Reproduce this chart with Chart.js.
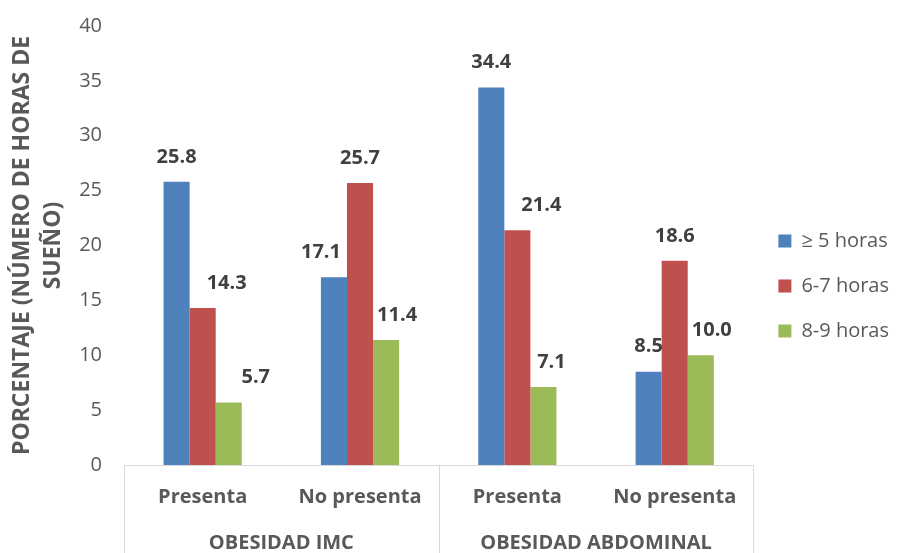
<!DOCTYPE html>
<html><head><meta charset="utf-8">
<script src="https://cdn.jsdelivr.net/npm/chart.js@4/dist/chart.umd.min.js"></script>
<style>html,body{margin:0;padding:0;background:#fff}#wrap{width:907px;height:553px}</style>
</head><body><div id="wrap"><canvas id="c" width="907" height="553"></canvas></div>
<script>
const categories = ['Presenta','No presenta','Presenta','No presenta'];
const groups = ['OBESIDAD IMC','OBESIDAD ABDOMINAL'];
const seriesNames = ['\u2265 5 horas','6-7 horas','8-9 horas'];
const s5 = [25.8, 17.1, 34.4, 8.5];
const s67 = [14.3, 25.7, 21.4, 18.6];
const s89 = [5.7, 11.4, 7.1, 10.0];
const yTicks = [0,5,10,15,20,25,30,35,40];

// style: horizontal nudges (px) of the value labels, as placed in the original
const labelNudge = [[0,-13,0,0],[24,0,24,0],[27,11,8,11]];

const FONT = '"Open Sans", sans-serif';
const GRAY = '#595959';
const LINE = '#d9d9d9';

const labelPlugin = {
  id:'vals',
  afterDatasetsDraw(chart){
    const ctx = chart.ctx;
    ctx.save();
    ctx.font = 'bold 20px ' + FONT;
    ctx.fillStyle = '#404040';
    ctx.textAlign = 'center';
    ctx.textBaseline = 'middle';
    chart.data.datasets.forEach((ds,i)=>{
      chart.getDatasetMeta(i).data.forEach((bar,j)=>{
        ctx.fillText(ds.data[j].toFixed(1), bar.x + labelNudge[i][j], bar.y - 25);
      });
    });
    ctx.restore();
  }
};
const boxPlugin = {
  id:'boxes',
  afterDraw(chart){
    const x = chart.scales.x, ctx = chart.ctx;
    const mid = (x.getPixelForValue(1)+x.getPixelForValue(2))/2;
    ctx.save();
    ctx.strokeStyle = LINE; ctx.lineWidth = 1;
    [x.left, mid, x.right].forEach(px=>{
      const p = Math.round(px)+0.5;
      ctx.beginPath(); ctx.moveTo(p, chart.chartArea.bottom); ctx.lineTo(p, chart.height); ctx.stroke();
    });
    ctx.restore();
  }
};

new Chart(document.getElementById('c'), {
  type:'bar',
  data:{
    labels: categories,
    datasets:[
      {label: seriesNames[0], data: s5, backgroundColor:'#4F81BD'},
      {label: seriesNames[1], data: s67, backgroundColor:'#C0504D'},
      {label: seriesNames[2], data: s89, backgroundColor:'#9BBB59'}
    ]
  },
  options:{
    responsive:false, animation:false,
    layout:{padding:{left:7, right:8, top:6, bottom:0}},
    datasets:{bar:{barPercentage:1, categoryPercentage:0.497}},
    plugins:{
      legend:{position:'right',
        title:{display:true, text:' ', font:{size:1}, padding:6},
        labels:{boxWidth:13, boxHeight:13, padding:25, color:GRAY, font:{family:FONT, size:20}}},
      tooltip:{enabled:false}
    },
    scales:{
      y:{
        min:0, max:40,
        afterBuildTicks(s){ s.ticks = yTicks.map(v=>({value:v})); },
        afterFit(s){ s.width = 117; s.paddingTop = 26; },
        grid:{display:false, drawTicks:false},
        border:{display:false},
        ticks:{color:GRAY, padding:22, font:{family:FONT, size:20}},
        title:{display:true, text:['PORCENTAJE (NÚMERO DE HORAS DE','SUEÑO)'], color:GRAY, font:{family:FONT, size:23, weight:'bold', lineHeight:1.35}, padding:{top:0,bottom:0}}
      },
      x:{
        grid:{display:false, drawTicks:false},
        border:{display:true, color:LINE},
        afterFit(s){ s.height = 56; },
        ticks:{color:GRAY, padding:20, maxRotation:0, font:{family:FONT, size:20, weight:'bold'}}
      },
      x2:{
        type:'category', labels: groups, position:'bottom', offset:true,
        grid:{display:false, drawTicks:false},
        border:{display:false},
        afterFit(s){ s.height = 32; },
        ticks:{color:GRAY, padding:10, maxRotation:0, font:{family:FONT, size:20, weight:'bold'}}
      }
    }
  },
  plugins:[labelPlugin, boxPlugin]
});
</script></body></html>
